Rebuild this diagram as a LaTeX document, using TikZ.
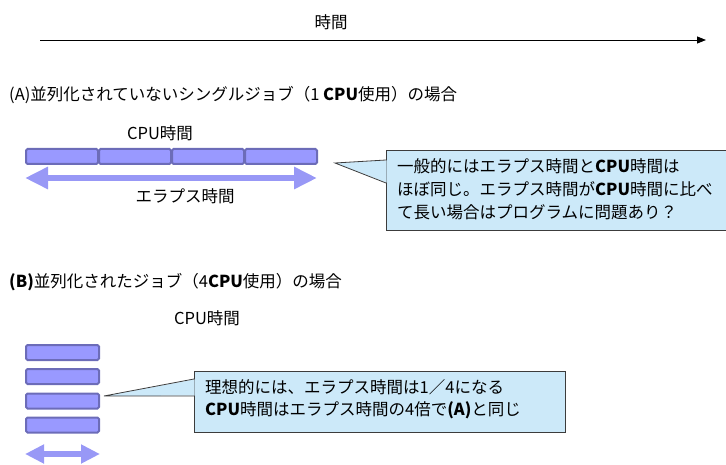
\documentclass[tikz,border=0pt]{standalone}
\usepackage{fontspec}
\setmainfont{Noto Sans CJK JP}
\usetikzlibrary{arrows.meta,calc}
\definecolor{barfill}{RGB}{153,153,255}
\definecolor{barline}{RGB}{108,108,184}
\definecolor{arrowc}{RGB}{152,152,246}
\definecolor{calfill}{RGB}{204,233,249}
\definecolor{calline}{RGB}{60,60,60}
\begin{document}
\begin{tikzpicture}[x=1pt,y=-1pt,
  lbl/.style={font=\fontsize{16.5}{20}\selectfont, inner sep=0pt},
  cpubar/.style={draw=barline, fill=barfill, line width=2pt, rounded corners=1.5pt, minimum height=15pt, inner sep=0pt},
  callbox/.style={draw=calline, fill=calfill, line width=0.8pt, inner sep=0pt},
  dblarrow/.style={line width=6.5pt, draw=arrowc},
  ptr/.style={draw=calline, line width=0.8pt}
]
\useasboundingbox (0,0) rectangle (726,465);

% time axis
\node[lbl] (tt) at (331,22) {時間};
\coordinate (t0) at (40,40);
\coordinate (t1) at (706,40);
\draw[line width=0.9pt, -{Triangle[width=7pt,length=9pt]}] (t0) -- (t1);

% (A)
\node[lbl, anchor=west] (ha) at (9,95) {(A)並列化されていないシングルジョブ（1 \textbf{CPU}使用）の場合};
\node[lbl] (cpua) at (160,133) {CPU時間};
\node[cpubar, minimum width=72pt] (a1) at (62,156.5) {};
\node[cpubar, minimum width=72pt] (a2) at (135,156.5) {};
\node[cpubar, minimum width=72pt] (a3) at (208,156.5) {};
\node[cpubar, minimum width=72pt] (a4) at (281,156.5) {};
\coordinate (ea0) at (25,178);
\coordinate (ea1) at (317,178);
\draw[dblarrow, {Triangle[width=21pt,length=23pt]}-{Triangle[width=21pt,length=23pt]}] (ea0) -- (ea1);
\node[lbl] (ela) at (185,196) {エラプス時間};

% callout A
\node[callbox, anchor=north west, minimum width=360pt, minimum height=80pt] (ca) at (386,150) {};
\coordinate (pa) at (335,163);
\fill[calfill] (pa) -- ($(ca.north west)+(0.6,10.4)$) -- ($(ca.north west)+(0.6,32.6)$) -- cycle;
\draw[ptr] ($(ca.north west)+(0,10)$) -- (pa) -- ($(ca.north west)+(0,33)$);
\node[lbl, anchor=west] (ca1) at (397,166) {一般的にはエラプス時間と\textbf{CPU}時間は};
\node[lbl, anchor=west] (ca2) at (397,189) {ほぼ同じ。エラプス時間が\textbf{CPU}時間に比べ};
\node[lbl, anchor=west] (ca3) at (397,212) {て長い場合はプログラムに問題あり？};

% (B)
\node[lbl, anchor=west] (hb) at (9,282) {\textbf{(B)}並列化されたジョブ（4\textbf{CPU}使用）の場合};
\node[lbl] (cpub) at (207,318) {CPU時間};
\node[cpubar, minimum width=73pt] (b1) at (62.5,352.5) {};
\node[cpubar, minimum width=73pt] (b2) at (62.5,376.5) {};
\node[cpubar, minimum width=73pt] (b3) at (62.5,401) {};
\node[cpubar, minimum width=73pt] (b4) at (62.5,425) {};
\coordinate (eb0) at (25,454);
\coordinate (eb1) at (100,454);
\draw[dblarrow, {Triangle[width=18pt,length=19pt]}-{Triangle[width=18pt,length=19pt]}] (eb0) -- (eb1);

% callout B
\node[callbox, anchor=north west, minimum width=371pt, minimum height=61pt] (cb) at (194,371) {};
\coordinate (pb) at (104,396);
\fill[calfill] (pb) -- ($(cb.north west)+(0.6,8.4)$) -- ($(cb.north west)+(0.6,24.6)$) -- cycle;
\draw[ptr] ($(cb.north west)+(0,8)$) -- (pb) -- ($(cb.north west)+(0,25)$);
\node[lbl, anchor=west] (cb1) at (205,387) {理想的には、エラプス時間は1／4になる};
\node[lbl, anchor=west] (cb2) at (205,410) {\textbf{CPU}時間はエラプス時間の4倍で\textbf{(A)}と同じ};
\end{tikzpicture}
\end{document}
